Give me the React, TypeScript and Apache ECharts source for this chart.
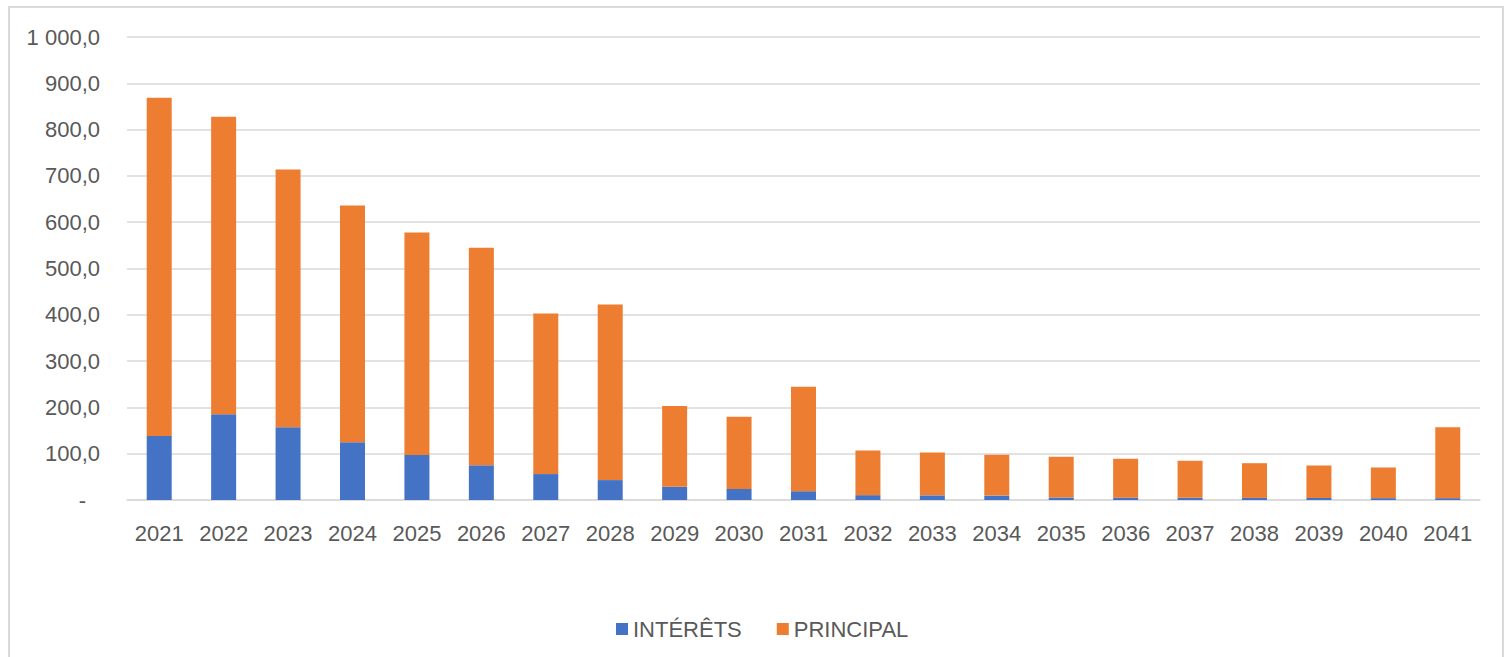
import React, { useEffect, useRef } from "react";
import * as echarts from "echarts";

const years = ["2021","2022","2023","2024","2025","2026","2027","2028","2029","2030","2031","2032","2033","2034","2035","2036","2037","2038","2039","2040","2041"];
const interets = [138, 185, 157, 125, 97, 75, 56, 43, 28.5, 24, 19, 10.5, 10, 9.5, 5.4, 5, 4.8, 4.5, 4.3, 4, 4];
const principal = [731, 643, 557, 511, 481, 470, 347, 379, 174.5, 156, 225.5, 96.5, 92.6, 88.1, 87.9, 84, 79.9, 75, 70.2, 66.2, 153];
const legendNames = ["INTÉRÊTS", "PRINCIPAL"];

const TEXT = "#595959";
const FONT = "'Liberation Sans', Arial, sans-serif";
const FS = 22;

function fmt(v: number): string {
  if (v === 0) return "{z|-}";
  const s = v.toFixed(1);
  const [intPart, dec] = s.split(".");
  const withSep = intPart.replace(/\B(?=(\d{3})+(?!\d))/g, " ");
  return withSep + "," + dec;
}

export default function App() {
  const ref = useRef<HTMLDivElement>(null);
  useEffect(() => {
    if (!ref.current) return;
    const chart = echarts.init(ref.current, undefined, { renderer: "svg" });
    chart.setOption({
      animation: false,
      backgroundColor: "#ffffff",
      textStyle: { fontFamily: FONT },
      graphic: [
        {
          type: "rect",
          shape: { x: 9, y: 7, width: 1494, height: 670 },
          style: { fill: "none", stroke: "#d9d9d9", lineWidth: 2 },
          silent: true,
        },
      ],
      grid: { left: 127, right: 31, top: 37, bottom: 157, containLabel: false },
      legend: {
        data: legendNames,
        top: 613,
        left: 611,
        itemWidth: 12,
        itemHeight: 12,
        itemGap: 35,
        icon: "rect",
        textStyle: { color: TEXT, fontSize: FS, fontFamily: FONT },
      },
      xAxis: {
        type: "category",
        data: years,
        axisTick: { show: false },
        axisLine: { lineStyle: { color: "#d9d9d9", width: 1.5 } },
        axisLabel: { color: TEXT, fontSize: FS, fontFamily: FONT, margin: 22 },
      },
      yAxis: {
        type: "value",
        min: 0,
        max: 1000,
        interval: 100,
        axisLine: { show: false },
        axisTick: { show: false },
        splitLine: { lineStyle: { color: "#d9d9d9", width: 1.5 } },
        axisLabel: {
          color: TEXT,
          fontSize: FS,
          fontFamily: FONT,
          margin: 27,
          formatter: (v: number) => fmt(v),
          rich: {
            z: { color: TEXT, fontSize: FS, fontFamily: FONT, padding: [0, 14, 0, 0] },
          },
        },
      },
      series: [
        {
          name: legendNames[0],
          type: "bar",
          stack: "total",
          barWidth: 25,
          data: interets,
          itemStyle: { color: "#4472C4" },
        },
        {
          name: legendNames[1],
          type: "bar",
          stack: "total",
          barWidth: 25,
          data: principal,
          itemStyle: { color: "#ED7D31" },
        },
      ],
    });
    return () => chart.dispose();
  }, []);
  return (
    <div
      ref={ref}
      style={{ position: "fixed", left: 0, top: 0, width: 1511, height: 657 }}
    />
  );
}
